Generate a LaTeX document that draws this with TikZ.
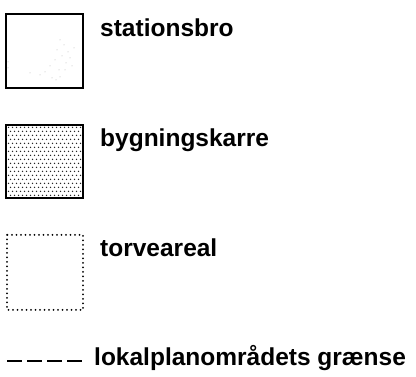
\documentclass[tikz,border=0pt]{standalone}
\usepackage{fontspec}
\setmainfont{Liberation Sans}
\begin{document}
\begin{tikzpicture}[x=1pt,y=-1pt,
  lbl/.style={anchor=base west,inner sep=0pt,font=\fontsize{24.5}{28}\selectfont\bfseries},
  boxline/.style={line width=1.4pt},
  dotline/.style={line width=2pt,line cap=round,dash pattern=on 0pt off 4.5pt},
  bound/.style={line width=2.8pt,dash pattern=on 15pt off 5pt}]
\useasboundingbox (0,0) rectangle (416,377);
% stationsbro
\draw[boxline] (6,14) rectangle (83,88);
\foreach \p in {(60,40),(64,45),(57,50),(68,52),(62,56),(70,58),(55,60),(66,63),(72,66),(50,66),(59,70),(45,72),(52,78),(40,75),(56,80),(60,77),(8,62),(8,68),(30,73),(74,48),(65,70)}
  \fill[gray!60] \p circle (0.5pt);
\node[lbl] (t1) at (100,37) {stationsbro};
% bygningskarre
\foreach \r in {0,...,17}{
  \foreach \c in {0,...,18}{
    \pgfmathsetmacro{\xx}{8.5+\c*4+mod(\r,2)*2}
    \pgfmathsetmacro{\yy}{127.5+\r*4}
    \ifdim\xx pt<82pt
      \fill[black!85] (\xx,\yy) circle (0.75pt);
    \fi
  }
}
\draw[boxline] (6,125) rectangle (83,198);
\node[lbl] (t2) at (100,147) {bygningskarre};
% torveareal
\draw[dotline] (7,235) rectangle (83,310);
\node[lbl] (t3) at (100,257) {torveareal};
% boundary
\coordinate (d1) at (7,361);
\coordinate (d2) at (84,361);
\draw[bound] (d1) -- (d2);
\node[lbl] (t4) at (94,366) {lokalplanområdets grænse};
\end{tikzpicture}
\end{document}
